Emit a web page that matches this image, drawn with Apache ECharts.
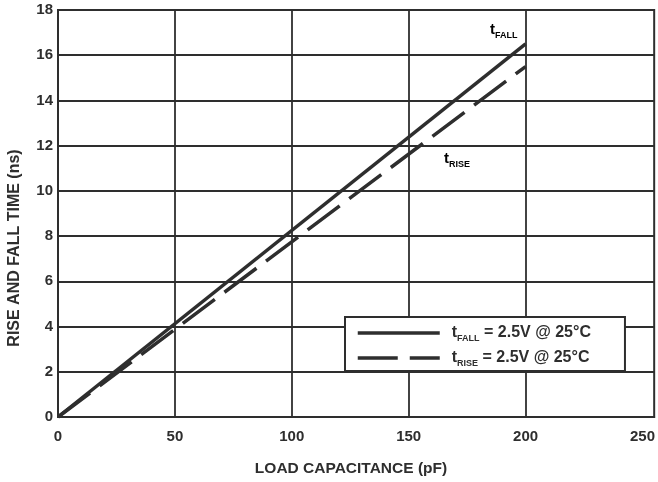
<!DOCTYPE html>
<html><head><meta charset="utf-8">
<script src="https://cdn.jsdelivr.net/npm/echarts@6/dist/echarts.min.js"></script>
<style>html,body{margin:0;padding:0;background:#fff}#c{width:658px;height:482px}</style>
</head><body><div id="c"></div>
<script>
// Data
const loadCap = [0, 200];          // pF
const tFall = [0, 16.5];           // ns
const tRise = [0, 15.5];           // ns
const xTickLabels = [0, 50, 100, 150, 200, 250];
const xGridValues = [0, 50, 100, 150, 200];
const yTickLabels = [0, 2, 4, 6, 8, 10, 12, 14, 16, 18];

const FONT = "'Liberation Sans', Arial, Helvetica, sans-serif";
const INK = '#2e2e2e';

const chart = echarts.init(document.getElementById('c'), null, {renderer: 'canvas'});

const subRich = {
  t: {fontFamily: FONT, fontWeight: 'bold', fontSize: 15, lineHeight: 20, color: INK},
  s: {fontFamily: FONT, fontWeight: 'bold', fontSize: 9, lineHeight: 6, verticalAlign: 'bottom', color: INK}
};

chart.setOption({
  animation: false,
  backgroundColor: '#fff',
  grid: {left: 58, right: 1, top: 10, bottom: 65, show: true, borderColor: INK, borderWidth: 2, containLabel: false},
  xAxis: {
    type: 'value', min: 0, max: 255, interval: 50,
    axisLine: {show: true, onZero: false, lineStyle: {color: INK, width: 2}},
    axisTick: {show: false, customValues: xGridValues},
    splitLine: {show: true, lineStyle: {color: INK, width: 1.8}},
    axisLabel: {
      margin: 12, color: INK, fontFamily: FONT, fontWeight: 'bold', fontSize: 15,
      customValues: xTickLabels,
      formatter: v => xTickLabels.includes(v) ? String(v) : ''
    }
  },
  yAxis: {
    type: 'value', min: 0, max: 18, interval: 2,
    axisLine: {show: true, lineStyle: {color: INK, width: 2}},
    axisTick: {show: false},
    splitLine: {show: true, lineStyle: {color: INK, width: 1.8}},
    axisLabel: {
      margin: 5, color: INK, fontFamily: FONT, fontWeight: 'bold', fontSize: 15,
      formatter: v => yTickLabels.includes(v) ? String(v) : ''
    }
  },
  legend: {
    orient: 'vertical', left: 345, top: 317,
    padding: [8, 34, 3, 11], itemGap: 7,
    itemWidth: 82, itemHeight: 0.1,
    backgroundColor: '#fff', borderColor: INK, borderWidth: 2, borderRadius: 0,
    selectedMode: false,
    lineStyle: {width: 3.5},
    data: ['tFALL', 'tRISE'],
    formatter: name => name === 'tFALL'
      ? '{t|t}{s|FALL}{m| = 2.5V @ 25°C}'
      : '{t|t}{s|RISE}{m| = 2.5V @ 25°C}',
    textStyle: {
      rich: {
        t: {fontFamily: FONT, fontWeight: 'bold', fontSize: 16, lineHeight: 20, color: INK, padding: [0, 0, 0, 7]},
        s: {fontFamily: FONT, fontWeight: 'bold', fontSize: 9, lineHeight: 6, verticalAlign: 'bottom', color: INK},
        m: {fontFamily: FONT, fontWeight: 'bold', fontSize: 16, lineHeight: 20, color: INK}
      }
    }
  },
  series: [
    {
      name: 'tFALL', type: 'line', symbol: 'none', silent: true,
      data: loadCap.map((x, i) => [x, tFall[i]]),
      lineStyle: {color: INK, width: 3.5, type: 'solid'},
      itemStyle: {color: INK}
    },
    {
      name: 'tRISE', type: 'line', symbol: 'none', silent: true,
      data: loadCap.map((x, i) => [x, tRise[i]]),
      lineStyle: {color: INK, width: 3.5, type: [40, 12]},
      itemStyle: {color: INK}
    }
  ],
  graphic: [
    {type: 'text', x: 490, y: 20, silent: true,
     style: {text: '{t|t}{s|FALL}', rich: subRich, textVerticalAlign: 'top', textAlign: 'left'}},
    {type: 'text', x: 444, y: 149, silent: true,
     style: {text: '{t|t}{s|RISE}', rich: subRich, textVerticalAlign: 'top', textAlign: 'left'}},
    {type: 'text', x: 351, y: 469, silent: true,
     style: {text: 'LOAD CAPACITANCE (pF)', fill: INK, font: "bold 15.5px " + FONT, textAlign: 'center', textVerticalAlign: 'middle'}},
    {type: 'text', x: 15, y: 248, rotation: Math.PI / 2, silent: true,
     style: {text: 'RISE AND FALL TIME (ns)', fill: INK, font: "bold 16px " + FONT, textAlign: 'center', textVerticalAlign: 'middle'}}
  ]
});
</script>
</body></html>
